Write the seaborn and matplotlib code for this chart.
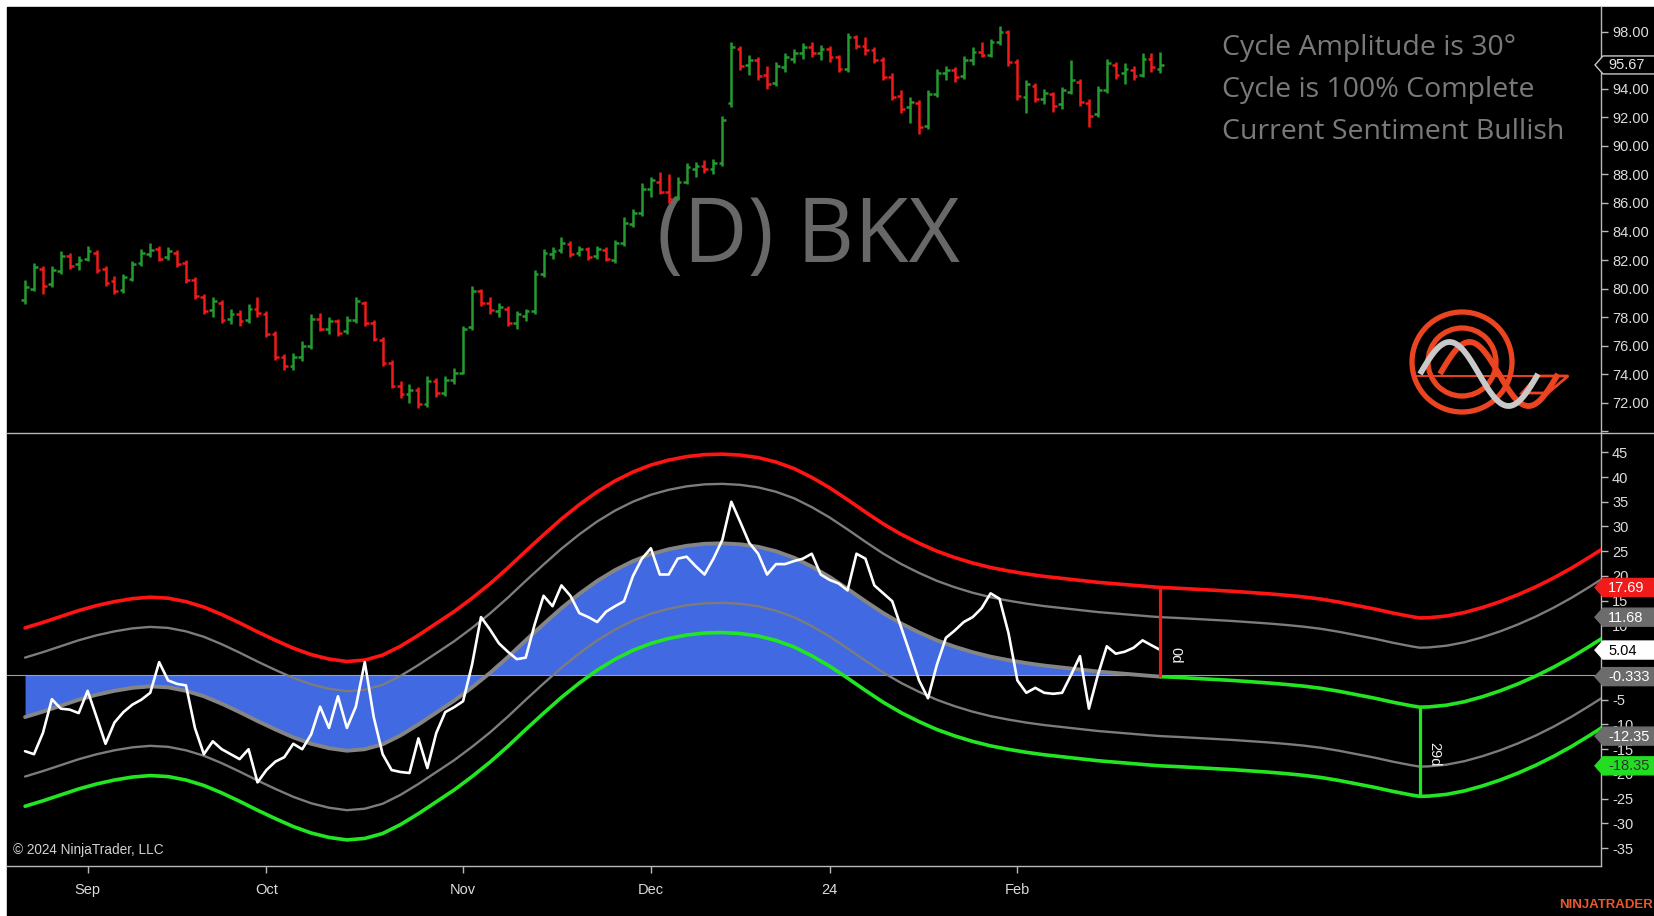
import numpy as np
import pandas as pd
import matplotlib
matplotlib.use("Agg")
import matplotlib.pyplot as plt
from matplotlib.patches import Polygon, Rectangle, Circle
import seaborn as sns

# ---------------- data ----------------
# trading-day index, 0 = first session of September 2023
bar_idx = np.arange(-7, 121)

opens = [
    79.2, 80.0, 81.4, 80.3, 81.2, 82.3, 81.7, 82.1, 82.5, 81.4,
    80.5, 79.9, 80.7, 81.8, 82.4, 82.8, 82.2, 82.5, 81.8, 80.6,
    79.4, 78.5, 79.0, 77.9, 78.2, 77.8, 78.6, 78.2, 76.8, 75.2,
    74.6, 75.2, 76.0, 77.9, 77.2, 77.7, 77.0, 77.8, 79.0, 77.6,
    76.4, 74.8, 73.2, 72.6, 72.9, 71.9, 73.5, 72.7, 73.6, 74.1,
    77.3, 79.8, 79.0, 78.4, 78.6, 77.6, 78.1, 78.4, 81.0, 82.4,
    82.7, 83.1, 82.5, 82.8, 82.3, 82.7, 82.0, 83.2, 84.5, 85.3,
    87.0, 87.5, 86.8, 86.4, 87.5, 88.4, 88.6, 88.4, 88.8, 93.0,
    96.8, 95.7, 96.0, 95.0, 94.4, 95.5, 96.1, 96.5, 96.9, 96.5,
    96.8, 96.2, 95.4, 97.6, 97.0, 96.7, 96.0, 94.8, 93.5, 92.7,
    93.0, 91.4, 93.6, 95.1, 95.3, 94.9, 96.0, 96.6, 96.4, 97.3,
    98.0, 95.9, 93.4, 94.2, 93.3, 93.6, 92.9, 93.8, 94.5, 93.0,
    92.2, 93.9, 95.7, 95.1, 95.3, 95.0, 96.1, 95.4,
]
highs = [
    80.6, 81.8, 81.6, 81.6, 82.6, 82.5, 82.3, 83.0, 82.7, 81.6,
    80.9, 81.0, 81.9, 82.8, 83.2, 83.0, 82.9, 82.7, 82.0, 80.8,
    79.6, 79.4, 79.2, 78.6, 78.5, 78.9, 79.4, 78.4, 77.0, 75.4,
    75.5, 76.3, 78.2, 78.3, 78.0, 77.9, 78.1, 79.4, 79.1, 77.8,
    76.6, 75.0, 73.5, 73.3, 73.1, 73.9, 73.7, 73.9, 74.4, 77.4,
    80.2, 80.0, 79.4, 79.0, 78.8, 78.4, 78.6, 81.3, 82.8, 82.9,
    83.6, 83.3, 83.0, 82.9, 83.0, 82.9, 83.4, 85.0, 85.6, 87.4,
    87.8, 88.2, 88.0, 87.8, 88.8, 88.9, 89.0, 89.1, 92.1, 97.3,
    97.0, 96.4, 96.2, 95.6, 95.9, 96.5, 96.8, 97.2, 97.3, 97.1,
    97.0, 96.4, 97.9, 97.8, 97.6, 96.9, 96.2, 95.1, 93.9, 93.4,
    93.2, 93.9, 95.4, 95.6, 95.5, 96.3, 96.9, 97.3, 97.5, 98.4,
    98.1, 96.1, 94.6, 94.4, 94.0, 93.8, 94.1, 96.0, 94.7, 93.3,
    94.2, 96.1, 95.9, 95.8, 95.6, 96.5, 96.5, 96.6,
]
lows = [
    78.9, 79.8, 79.6, 80.1, 81.0, 81.4, 81.3, 81.9, 81.1, 80.2,
    79.6, 79.7, 80.5, 81.6, 82.2, 81.9, 82.0, 81.5, 80.4, 79.3,
    78.2, 78.0, 77.6, 77.5, 77.4, 77.6, 78.0, 76.6, 75.0, 74.3,
    74.3, 74.9, 75.8, 77.0, 76.8, 76.7, 76.8, 77.6, 77.4, 76.3,
    74.6, 73.0, 72.3, 72.0, 71.6, 71.7, 72.4, 72.5, 73.3, 74.0,
    77.1, 78.8, 78.2, 78.0, 77.4, 77.2, 77.7, 78.2, 80.8, 82.1,
    82.5, 82.2, 82.3, 82.0, 82.1, 81.9, 81.8, 83.0, 84.3, 85.1,
    86.4, 86.6, 86.0, 86.2, 87.3, 87.8, 88.1, 88.0, 88.6, 92.7,
    95.3, 95.0, 94.6, 94.0, 94.2, 95.2, 95.8, 96.1, 96.2, 96.0,
    95.9, 95.2, 95.2, 96.8, 96.4, 95.8, 94.6, 93.2, 92.3, 91.6,
    90.8, 91.2, 93.4, 94.6, 94.5, 94.7, 95.7, 96.2, 96.2, 97.1,
    95.6, 93.2, 92.3, 93.1, 92.9, 92.4, 92.6, 93.6, 92.8, 91.3,
    92.0, 93.7, 94.7, 94.3, 94.6, 94.8, 95.2, 95.1,
]
closes = [
    80.1, 81.5, 80.2, 81.3, 82.3, 81.6, 82.0, 82.6, 81.3, 80.4,
    79.8, 80.8, 81.7, 82.5, 82.7, 82.1, 82.6, 81.7, 80.6, 79.5,
    78.4, 79.1, 77.8, 78.2, 77.7, 78.6, 78.3, 76.8, 75.2, 74.6,
    75.2, 76.0, 77.9, 77.2, 77.7, 76.9, 77.8, 79.1, 77.6, 76.5,
    74.8, 73.2, 72.6, 72.9, 71.9, 73.5, 72.7, 73.6, 74.1, 77.2,
    79.8, 79.0, 78.5, 78.7, 77.6, 78.2, 78.4, 81.0, 82.5, 82.6,
    83.2, 82.4, 82.8, 82.2, 82.8, 82.1, 83.2, 84.6, 85.3, 87.0,
    87.6, 86.8, 86.3, 87.5, 88.5, 88.6, 88.4, 88.8, 91.8, 96.9,
    95.6, 96.0, 94.9, 94.3, 95.6, 96.2, 96.5, 96.9, 96.5, 96.8,
    96.2, 95.4, 97.6, 97.0, 96.7, 96.0, 94.8, 93.4, 92.6, 93.1,
    91.3, 93.6, 95.1, 95.3, 94.8, 96.0, 96.6, 96.4, 97.3, 98.0,
    95.9, 93.5, 94.3, 93.3, 93.7, 92.8, 93.9, 94.6, 93.1, 92.1,
    93.9, 95.8, 95.0, 95.4, 94.9, 96.1, 95.5, 95.67,
]

# detrended oscillator, one value per bar
osc = [
    -15.4, -16.0, -11.7, -4.9, -6.8, -7.0, -7.7, -3.2, -8.5, -13.9,
    -9.6, -7.5, -6.0, -5.0, -3.6, 2.6, -1.1, -1.8, -2.1, -10.7,
    -16.0, -13.4, -15.0, -16.0, -17.0, -15.0, -21.7, -19.2, -17.5, -16.6,
    -13.9, -15.0, -12.0, -6.4, -10.7, -4.3, -10.7, -6.4, 2.6, -8.5,
    -16.0, -19.2, -19.6, -19.8, -12.8, -18.8, -11.7, -7.5, -6.5, -5.3,
    2.1, 11.7, 9.2, 6.4, 4.7, 3.2, 3.5, 10.2, 16.0, 13.9,
    18.1, 16.0, 12.5, 11.7, 10.7, 12.8, 13.9, 14.9, 20.0, 23.5,
    25.6, 20.3, 20.3, 23.5, 23.9, 22.0, 20.3, 23.5, 27.3, 35.0,
    30.9, 26.7, 24.5, 20.3, 22.4, 22.4, 23.0, 23.5, 24.5, 20.3,
    19.2, 18.5, 17.1, 24.5, 23.5, 18.1, 16.5, 14.9, 9.6, 4.3,
    -1.1, -4.7, 2.1, 7.5, 9.0, 10.7, 11.7, 13.5, 16.5, 15.4,
    8.5, -1.1, -3.6, -2.6, -3.6, -3.8, -3.6, 0.0, 3.8, -6.8,
    0.0, 5.8, 4.3, 4.7, 5.5, 7.0, 6.0, 5.04,
]

# dominant cycle (centre of the bands), historical part
cycle_idx = list(range(-7, 120, 2)) + [120]
cycle_val = [
    -8.5, -7.4, -6.2, -5.0, -4.0, -3.2, -2.6, -2.3, -2.5, -3.2,
    -4.3, -5.8, -7.5, -9.3, -11.0, -12.6, -13.9, -14.8, -15.3, -15.0,
    -14.0, -12.2, -10.0, -7.6, -5.2, -2.5, 0.4, 3.6, 7.0, 10.3,
    13.5, 16.4, 19.0, 21.2, 23.0, 24.4, 25.4, 26.1, 26.5, 26.6,
    26.4, 25.9, 25.0, 23.7, 21.9, 19.8, 17.4, 14.9, 12.5, 10.4,
    8.6, 7.0, 5.7, 4.6, 3.7, 3.0, 2.4, 1.9, 1.5, 1.1,
    0.7, 0.4, 0.1, -0.2, -0.333,
]
# projected cycle beyond the last bar
proj_idx = [120, 122, 124, 126, 128, 130, 132, 134, 136, 138, 140, 142, 144,
            146, 148, 149, 150, 152, 154, 156, 158, 160, 162, 164, 166, 168, 170]
proj_val = [-0.333, -0.5, -0.7, -0.9, -1.1, -1.35, -1.6, -1.9, -2.25, -2.7,
            -3.3, -4.0, -4.7, -5.5, -6.2, -6.5, -6.45, -6.1, -5.4, -4.4,
            -3.2, -1.8, -0.2, 1.6, 3.6, 5.8, 8.1]

inner_band = 12.015
outer_band = 18.02
bars_to_low = 29

month_idx = [0, 20, 42, 63, 83, 104]
month_lbl = ["Sep", "Oct", "Nov", "Dec", "24", "Feb"]
price_ticks = list(range(70, 100, 2))
osc_ticks = list(range(-35, 50, 5))
info_lines = ["Cycle Amplitude is 30°", "Cycle is 100% Complete",
              "Current Sentiment Bullish"]
symbol = "(D) BKX"

# ---------------- layout (pixels) ----------------
W, H, DPI = 1654, 916, 100
LEFT, RIGHT = 7, 1601
TOP, SEP, BOT = 7, 433, 866
P_LO, P_HI = 69.88, 99.73
O_LO, O_HI = -38.59, 48.89
X_LO, X_HI = -9.02, 169.28

UP, DOWN = "#249a30", "#f01a1a"
RED, GREEN = "#ff1414", "#22e622"
GREY_BAND, GREY_CYC = "#7c7c7c", "#858585"
BLUE = "#4169e1"
AXIS = "#b8b8b8"
LABEL = "#dcdcdc"

sns.set_theme(style="dark", rc={
    "axes.facecolor": "black",
    "figure.facecolor": "white",
    "axes.grid": False,
})
plt.rcParams["font.family"] = ["Liberation Sans", "DejaVu Sans"]
NARROW = ["Liberation Sans Narrow", "Liberation Sans", "DejaVu Sans"]


def rect(x0, y0, x1, y1):
    return [x0 / W, 1 - y1 / H, (x1 - x0) / W, (y1 - y0) / H]


def y_price(v):
    return TOP + (P_HI - v) / (P_HI - P_LO) * (SEP - TOP)


def y_osc(v):
    return SEP + (O_HI - v) / (O_HI - O_LO) * (BOT - SEP)


fig = plt.figure(figsize=(W / DPI, H / DPI), dpi=DPI)
fig.add_artist(Rectangle((LEFT / W, 0), 1 - LEFT / W, 1 - TOP / H,
                         transform=fig.transFigure, color="black", zorder=-10))

ax_p = fig.add_axes(rect(LEFT, TOP, RIGHT, SEP))
ax_o = fig.add_axes(rect(LEFT, SEP, RIGHT, BOT))

for ax in (ax_p, ax_o):
    ax.set_facecolor("black")
    ax.set_xlim(X_LO, X_HI)
    for s in ("top", "left", "bottom"):
        ax.spines[s].set_visible(False)
    ax.spines["right"].set_color(AXIS)
    ax.spines["right"].set_linewidth(1.0)
    ax.yaxis.tick_right()
    ax.tick_params(axis="y", which="both", direction="out", length=5,
                   width=1, color=AXIS, labelcolor=LABEL, labelsize=10.5, pad=3,
                   left=False, right=True)

cx = np.array(cycle_idx, dtype=float)
cy = np.array(cycle_val)
px_ = np.array(proj_idx, dtype=float)
py_ = np.array(proj_val)
all_x = np.concatenate([cx, px_[1:]])
all_c = np.concatenate([cy, py_[1:]])

# values that carry a price/value flag on the right axis
flag_price = closes[-1]
flag_osc = [cy[-1] + outer_band, cy[-1] + inner_band, osc[-1], cy[-1],
            cy[-1] - inner_band, cy[-1] - outer_band]


def hidden_by_flag(tick, flags, half_height):
    return any(abs(tick - f) < half_height for f in flags)


# ---------------- price panel ----------------
ax_p.set_ylim(P_LO, P_HI)
ax_p.set_xticks([])
ax_p.set_yticks(price_ticks)
ax_p.set_yticklabels(["" if (t == 70 or hidden_by_flag(t, [flag_price], 0.5))
                      else f"{t:.2f}" for t in price_ticks])

o = np.array(opens); h = np.array(highs); l = np.array(lows); c = np.array(closes)
cols = np.where(c >= o, UP, DOWN)
ax_p.vlines(bar_idx, l, h, colors=cols, lw=1.8, zorder=3)
ax_p.hlines(o, bar_idx - 0.42, bar_idx, colors=cols, lw=1.8, zorder=3)
ax_p.hlines(c, bar_idx, bar_idx + 0.42, colors=cols, lw=1.8, zorder=3)

ax_p.text(0.503, 0.455, symbol, transform=ax_p.transAxes, ha="center",
          va="center", fontsize=64, color="#686868",
          family=["Open Sans", "DejaVu Sans"], zorder=1)
for k, line in enumerate(info_lines):
    fig.text(1222 / W, 1 - (48 + 42 * k) / H, line, ha="left", va="center",
             fontsize=20.5, color="#7a7a7a", family=["Open Sans", "DejaVu Sans"])

# ---------------- oscillator panel ----------------
ax_o.set_ylim(O_LO, O_HI)
ax_o.set_yticks(osc_ticks)
ax_o.set_yticklabels(["" if hidden_by_flag(t, flag_osc, 1.0) else str(t)
                      for t in osc_ticks])
ax_o.spines["bottom"].set_visible(True)
ax_o.spines["bottom"].set_color(AXIS)
ax_o.spines["bottom"].set_linewidth(1.0)

ax_o.fill_between(cx, 0, cy, color=BLUE, lw=0, zorder=1)
ax_o.axhline(0, color="#a0a0a0", lw=0.8, zorder=2)

bands = pd.DataFrame({
    "idx": np.tile(all_x, 4),
    "value": np.concatenate([all_c + outer_band, all_c + inner_band,
                             all_c - inner_band, all_c - outer_band]),
    "band": np.repeat(["upper outer", "upper inner", "lower inner",
                       "lower outer"], len(all_x)),
})
band_style = {"upper outer": (RED, 2.6), "upper inner": (GREY_BAND, 1.7),
              "lower inner": (GREY_BAND, 1.7), "lower outer": (GREEN, 2.6)}
for name, (colr, lw) in band_style.items():
    sns.lineplot(data=bands[bands.band == name], x="idx", y="value", ax=ax_o,
                 color=colr, linewidth=lw, estimator=None, sort=False,
                 legend=False, zorder=3)

sns.lineplot(x=cx, y=cy, ax=ax_o, color=GREY_CYC, linewidth=2.8,
             estimator=None, sort=False, legend=False, zorder=4)
sns.lineplot(x=px_, y=py_, ax=ax_o, color=GREEN, linewidth=2.6,
             estimator=None, sort=False, legend=False, zorder=4)
sns.lineplot(x=bar_idx, y=osc, ax=ax_o, color="white", linewidth=1.9,
             estimator=None, sort=False, legend=False, zorder=5)

ax_o.set_xlabel("")
ax_o.set_ylabel("")
ax_o.set_xticks(month_idx)
ax_o.set_xticklabels(month_lbl, family=NARROW)
ax_o.tick_params(axis="x", direction="out", length=5, width=1, color=AXIS,
                 labelcolor=LABEL, labelsize=10.5, pad=7, bottom=True)

# markers: current bar and next cycle low
last = bar_idx[-1]
ax_o.plot([last, last], [cy[-1], cy[-1] + outer_band], color=RED, lw=2.3,
          zorder=6, solid_capstyle="butt")
ax_o.text(last + 0.9, cy[-1] + 4.3, "0d", rotation=-90, color="#f0f0f0",
          fontsize=10.5, ha="left", va="center", zorder=7)
low_i = proj_idx.index(last + bars_to_low)
lx, lv = proj_idx[low_i], proj_val[low_i]
ax_o.plot([lx, lx], [lv, lv - outer_band], color=GREEN, lw=2.3, zorder=6,
          solid_capstyle="butt")
ax_o.text(lx + 0.8, lv - outer_band / 2 - 0.5, f"{bars_to_low}d",
          rotation=-90, color="#f0f0f0", fontsize=10.5, ha="left",
          va="center", zorder=7)

# ---------------- overlay in pixel coordinates ----------------
ov = fig.add_axes([0, 0, 1, 1])
ov.set_xlim(0, W)
ov.set_ylim(H, 0)
ov.axis("off")
ov.patch.set_alpha(0)
ov.set_zorder(10)

ov.plot([LEFT, W], [SEP, SEP], color=AXIS, lw=1.0)


def flag(y, text, face, fg, edge=None):
    hh = 9
    pts = [(1595, y), (1603, y - hh), (W + 5, y - hh), (W + 5, y + hh),
           (1603, y + hh)]
    ov.add_patch(Polygon(pts, closed=True, facecolor=face,
                         edgecolor=edge if edge else face, lw=1.0, zorder=5))
    ov.text(1608, y + 0.5, text, ha="left", va="center", fontsize=10.5,
            color=fg, zorder=6)


flag(y_price(flag_price), f"{flag_price:.2f}", "black", "#e6e6e6", "#c8c8c8")
flag_faces = [("#f01c1c", "white"), ("#6c6c6c", "white"), ("white", "black"),
              ("#6c6c6c", "white"), ("#6c6c6c", "white"), ("#22dd22", "#333333")]
for val, (face, fg) in zip(flag_osc, flag_faces):
    flag(y_osc(val), f"{val:.4g}", face, fg)

# copyright and brand
ov.text(13, 850, "© 2024 NinjaTrader, LLC", ha="left", va="center",
        fontsize=9.8, color="#d2d2d2", family=NARROW)
ov.text(W - 1, 905, "NINJATRADER", ha="right", va="center", fontsize=9.5,
        weight="bold", color="#e8582c", family=NARROW)

# logo
LOGO = "#ea4420"
cxl, cyl = 1462, 362
ov.add_patch(Circle((cxl, cyl), 50, fill=False, ec=LOGO, lw=3.8))
ov.add_patch(Circle((cxl, cyl), 34, fill=False, ec=LOGO, lw=3.8))
ov.plot([1415, 1568], [376, 376], color=LOGO, lw=1.4)
ov.add_patch(Polygon([(1537, 376), (1568, 376), (1548, 393), (1522, 393)],
                     closed=True, fc="none", ec=LOGO, lw=2.0))
t = np.linspace(0, 1, 120)
wx = 1420 + 118 * t
wy = 374 - 32 * np.sin(2 * np.pi * t)
ov.plot(wx + 20, wy, color=LOGO, lw=4.2, solid_capstyle="butt")
ov.plot(wx, wy, color="#c9c9c9", lw=4.2, solid_capstyle="butt")

fig.savefig("out.png", dpi=DPI, facecolor="white")
